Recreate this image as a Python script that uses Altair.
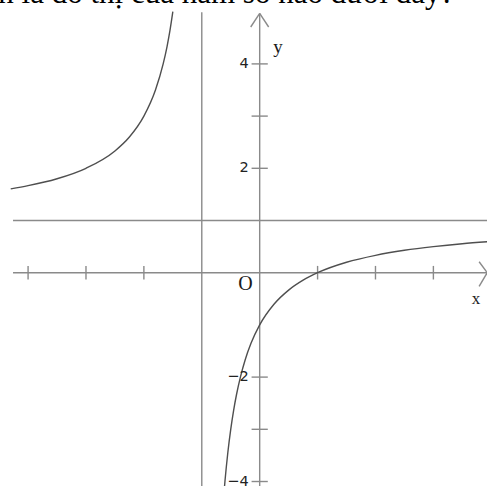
import altair as alt
import pandas as pd

# Graph of a rational function: two branches, asymptotes x = -1 and y = 1
left_x = [-4.3, -4.0, -3.5, -3.0, -2.5, -2.25, -2.0, -1.8, -1.667, -1.6, -1.55, -1.5]
left_y = [1.606, 1.667, 1.8, 2.0, 2.333, 2.6, 3.0, 3.5, 4.0, 4.333, 4.636, 5.0]
right_x = [-0.62, -0.6, -0.55, -0.5, -0.45, -0.4, -0.333, -0.25, -0.15, 0.0,
           0.25, 0.5, 0.75, 1.0, 1.5, 2.0, 2.5, 3.0, 3.5, 3.93]
right_y = [-4.263, -4.0, -3.444, -3.0, -2.636, -2.333, -2.0, -1.667, -1.353, -1.0,
           -0.6, -0.333, -0.143, 0.0, 0.2, 0.333, 0.429, 0.5, 0.556, 0.594]

x_ticks = [-4, -3, -2, 1, 2, 3]
y_ticks = [-4, -3, -2, 2, 3, 4]
y_label_vals = [4, 2, -2, -4]
y_label_text = ["4", "2", "\u22122", "\u22124"]

asym_x = -1
asym_y = 1
question = "Đường cong trong hình vẽ bên là đồ thị của hàm số nào dưới đây?"

W, H = 487, 486
XD = [-4.485, 3.926]
YD = [-4.086, 5.224]
xs = alt.Scale(domain=XD, nice=False, zero=False)
ys = alt.Scale(domain=YD, nice=False, zero=False)

AXIS_C = "#8a8a8a"
CURVE_C = "#4f4f4f"

curve_df = pd.DataFrame(
    [{"x": a, "y": b, "branch": "left", "i": i} for i, (a, b) in enumerate(zip(left_x, left_y))]
    + [{"x": a, "y": b, "branch": "right", "i": i} for i, (a, b) in enumerate(zip(right_x, right_y))]
)

curve = alt.Chart(curve_df).mark_line(
    color=CURVE_C, strokeWidth=1.4, interpolate="monotone", clip=True
).encode(
    x=alt.X("x:Q", scale=xs, axis=None),
    y=alt.Y("y:Q", scale=ys, axis=None),
    detail="branch:N",
    order="i:Q",
)

# axis lines, asymptotes, arrow heads and tick marks (segments in data units)
seg_rows = [
    {"x": -4.26, "x2": 3.93, "y": 0, "y2": 0},            # x axis
    {"x": 0, "x2": 0, "y": -4.2, "y2": 4.966},            # y axis
    {"x": asym_x, "x2": asym_x, "y": -4.2, "y2": 4.99},   # vertical asymptote
    {"x": -4.26, "x2": 3.93, "y": asym_y, "y2": asym_y},  # horizontal asymptote
    {"x": 0, "x2": -0.155, "y": 4.966, "y2": 4.707},
    {"x": 0, "x2": 0.155, "y": 4.966, "y2": 4.707},
    {"x": 3.93, "x2": 3.79, "y": 0, "y2": 0.21},
    {"x": 3.93, "x2": 3.79, "y": 0, "y2": -0.26},
]
seg_rows += [{"x": t, "x2": t, "y": -0.13, "y2": 0.13} for t in x_ticks]
seg_rows += [{"x": -0.14, "x2": 0.14, "y": t, "y2": t} for t in y_ticks]
segs = pd.DataFrame(seg_rows)

lines = alt.Chart(segs).mark_rule(color=AXIS_C, strokeWidth=1.4).encode(
    x=alt.X("x:Q", scale=xs, axis=None), x2="x2:Q",
    y=alt.Y("y:Q", scale=ys, axis=None), y2="y2:Q",
)

yl = pd.DataFrame({"x": [0] * len(y_label_vals), "y": y_label_vals, "t": y_label_text})
ylab = alt.Chart(yl).mark_text(
    align="right", baseline="middle", font="DejaVu Sans", fontSize=14.5,
    color="#222222", dx=-11
).encode(
    x=alt.X("x:Q", scale=xs, axis=None),
    y=alt.Y("y:Q", scale=ys, axis=None),
    text="t:N",
)

names = pd.DataFrame([
    {"x": -0.245, "y": -0.33, "t": "O", "s": 20},
    {"x": 3.737, "y": -0.6, "t": "x", "s": 17},
    {"x": 0.316, "y": 4.21, "t": "y", "s": 19},
])
nlab = alt.Chart(names).mark_text(
    align="center", baseline="alphabetic", font="Liberation Serif", color="#1a1a1a"
).encode(
    x=alt.X("x:Q", scale=xs, axis=None),
    y=alt.Y("y:Q", scale=ys, axis=None),
    text="t:N",
    size=alt.Size("s:Q", scale=None, legend=None),
)

title = alt.Chart(pd.DataFrame({"x": [3.36], "y": [5.16], "t": [question]})).mark_text(
    align="right", baseline="alphabetic", font="Liberation Serif", fontSize=31, color="#000000"
).encode(
    x=alt.X("x:Q", scale=xs, axis=None),
    y=alt.Y("y:Q", scale=ys, axis=None),
    text="t:N",
)

chart = alt.layer(lines, curve, ylab, nlab, title).properties(
    width=W, height=H, autosize=alt.AutoSizeParams(type="none"), padding=0,
    background="white",
).configure_view(stroke=None)

chart.save("out.html", embed_options={"renderer": "svg", "actions": False})
